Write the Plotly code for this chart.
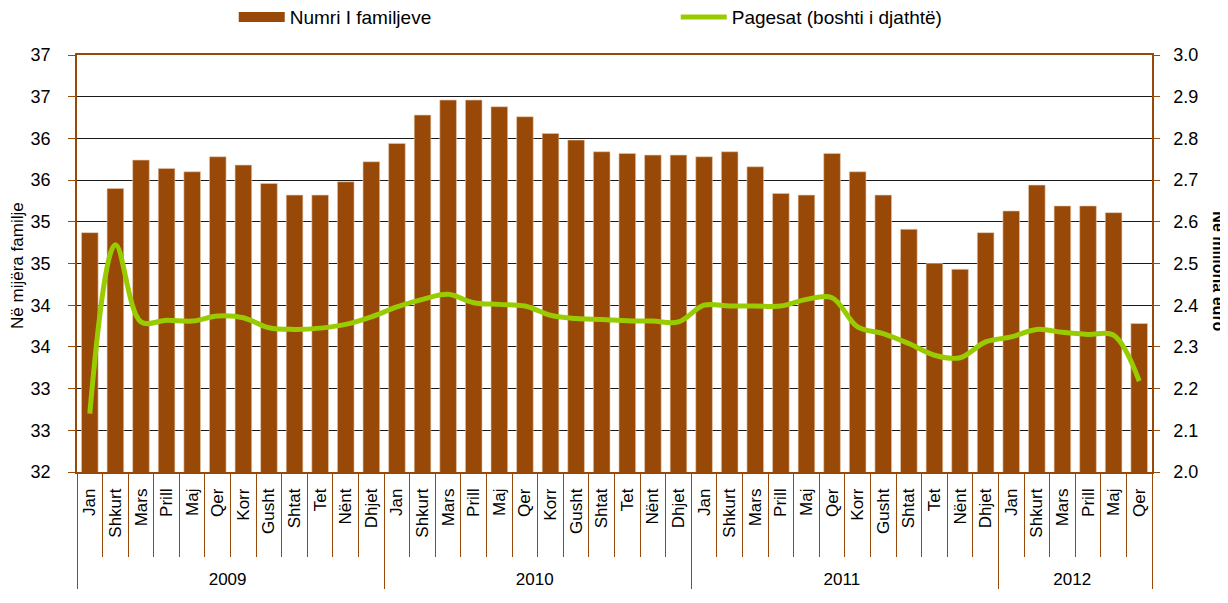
import plotly.graph_objects as go

years = ["2009"] * 12 + ["2010"] * 12 + ["2011"] * 12 + ["2012"] * 6
month_names = ["Jan", "Shkurt", "Mars", "Prill", "Maj", "Qer", "Korr", "Gusht", "Shtat", "Tet", "Nënt", "Dhjet"]
months = month_names * 3 + month_names[:6]

families = [
    34.87, 35.40, 35.74, 35.64, 35.60, 35.78, 35.68, 35.46, 35.32, 35.32, 35.48, 35.72,
    35.94, 36.28, 36.46, 36.46, 36.38, 36.26, 36.06, 35.98, 35.84, 35.82, 35.80, 35.80,
    35.78, 35.84, 35.66, 35.34, 35.32, 35.82, 35.60, 35.32, 34.91, 34.50, 34.43, 34.87,
    35.13, 35.44, 35.19, 35.19, 35.11, 33.78,
]
payments = [
    2.140, 2.545, 2.360, 2.364, 2.362, 2.374, 2.370, 2.346, 2.342, 2.345, 2.354, 2.372,
    2.396, 2.414, 2.426, 2.406, 2.402, 2.398, 2.376, 2.368, 2.366, 2.363, 2.362, 2.360,
    2.400, 2.398, 2.398, 2.398, 2.414, 2.418, 2.348, 2.332, 2.308, 2.280, 2.274, 2.312,
    2.324, 2.342, 2.335, 2.330, 2.328, 2.218,
]

left_tickvals = [32, 32.5, 33, 33.5, 34, 34.5, 35, 35.5, 36, 36.5, 37]
left_ticktext = ["32", "33", "33", "34", "34", "35", "35", "36", "36", "37", "37"]

BROWN = "#984807"
GREEN = "#99CC00"
FONT = "Liberation Sans, Arial, sans-serif"

# year labels sit one (empty) line lower, as in the reference
year_labels = ["<br>" + y for y in years]
x_cats = [year_labels, months]

fig = go.Figure()
fig.add_trace(go.Bar(
    x=x_cats, y=families, name="Numri I familjeve",
    marker=dict(color=BROWN, line=dict(color="#E8CDB0", width=0.6)),
    showlegend=False, yaxis="y",
))
# legend proxy for bars (wide swatch)
fig.add_trace(go.Scatter(
    x=[[None], [None]], y=[None], mode="lines", name="Numri I familjeve",
    line=dict(color=BROWN, width=11), yaxis="y", hoverinfo="skip",
))
fig.add_trace(go.Scatter(
    x=x_cats, y=payments, mode="lines", name="Pagesat (boshti i djathtë)",
    line=dict(color=GREEN, width=5, shape="spline", smoothing=1.0), yaxis="y2",
))

fig.update_layout(
    width=1220, height=595,
    margin=dict(l=69, r=76, t=47, b=131, autoexpand=False),
    paper_bgcolor="white", plot_bgcolor="white",
    font=dict(family=FONT, size=17, color="#000"),
    bargap=0.35,
    showlegend=True,
    legend=dict(
        orientation="h", x=0.1458, xanchor="left", y=1.091, yanchor="middle",
        font=dict(size=19), entrywidth=381, entrywidthmode="pixels",
        bgcolor="rgba(0,0,0,0)", itemwidth=46,
    ),
    xaxis=dict(
        type="multicategory", tickangle=-90, tickfont=dict(size=17),
        ticks="outside", ticklen=83, tickcolor=BROWN, tickwidth=1.2, tickson="boundaries",
        showline=True, linecolor=BROWN, linewidth=1.5, mirror=True,
        showdividers=True, dividercolor=BROWN, dividerwidth=1.2,
        showgrid=False, automargin=False, ticklabelstandoff=8,
    ),
    yaxis=dict(
        range=[32, 37], tickvals=left_tickvals, ticktext=left_ticktext,
        ticks="outside", ticklen=7, tickcolor=BROWN, tickwidth=1.2,
        showline=True, linecolor=BROWN, linewidth=1.5,
        showgrid=True, gridcolor="#1a1a1a", gridwidth=1.3,
        tickfont=dict(size=18), ticklabelstandoff=14, zeroline=False, automargin=False,
    ),
    yaxis2=dict(
        range=[2.0, 3.0], dtick=0.1, tick0=2.0, tickformat=".1f", overlaying="y", side="right",
        ticks="outside", ticklen=6, tickcolor=BROWN, tickwidth=1.2,
        showline=True, linecolor=BROWN, linewidth=1.5,
        showgrid=False, zeroline=False, tickfont=dict(size=18), ticklabelstandoff=10,
        automargin=False,
    ),
    annotations=[
        dict(text="Në mijëra familje", xref="paper", yref="paper", x=-0.0555, y=0.495,
             textangle=-90, showarrow=False, font=dict(size=17), xanchor="center", yanchor="middle"),
        dict(text="<b>Në miliona euro</b>", xref="paper", yref="paper", x=1.0620, y=0.482,
             textangle=90, showarrow=False, font=dict(size=16), xanchor="center", yanchor="middle"),
    ],
)

fig.write_html("out.html")
